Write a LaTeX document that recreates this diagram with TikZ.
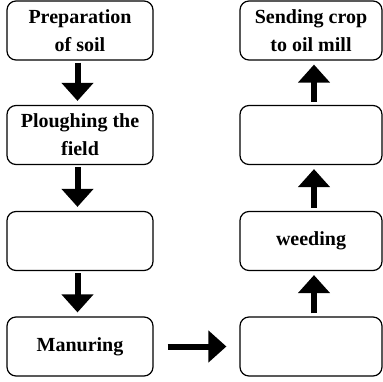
\documentclass[tikz,border=0pt]{standalone}
\usepackage{fontspec}
\setmainfont{Liberation Serif}
\usetikzlibrary{arrows.meta}
\begin{document}
\begin{tikzpicture}[x=1pt,y=-1pt,
  box/.style={draw, line width=1.2pt, rounded corners=9pt, minimum height=59pt, align=center,
    inner sep=0pt, font=\fontsize{20}{28}\selectfont\bfseries},
  lbox/.style={box, minimum width=146pt},
  rbox/.style={box, minimum width=142pt},
  arr/.style={line width=6pt, -{Triangle[width=31pt,length=18pt]}}
]
\useasboundingbox (0,0) rectangle (383,382);
\node[lbox] (l1) at (80,30.5) {Preparation\\of soil};
\node[lbox] (l2) at (80,135) {Ploughing the\\field};
\node[lbox] (l3) at (80,241) {};
\node[lbox] (l4) at (80,346.5) {Manuring};
\node[rbox] (r1) at (311,30.5) {Sending crop\\to oil mill};
\node[rbox] (r2) at (311,135) {};
\node[rbox] (r3) at (311,241) {weeding};
\node[rbox] (r4) at (311,346.5) {};
\draw[arr, shorten <=2pt, shorten >=4pt] ([xshift=-2.5pt]l1.south) -- ([xshift=-2.5pt]l2.north);
\draw[arr, shorten <=2pt, shorten >=4pt] ([xshift=-2.5pt]l2.south) -- ([xshift=-2.5pt]l3.north);
\draw[arr, shorten <=2pt, shorten >=4pt] ([xshift=-2.5pt]l3.south) -- ([xshift=-2.5pt]l4.north);
\draw[arr, shorten <=14pt, shorten >=13pt] (l4.east) -- (r4.west);
\draw[arr, shorten <=3pt, shorten >=4pt] ([xshift=3pt]r4.north) -- ([xshift=3pt]r3.south);
\draw[arr, shorten <=3pt, shorten >=4pt] ([xshift=3pt]r3.north) -- ([xshift=3pt]r2.south);
\draw[arr, shorten <=3pt, shorten >=4pt] ([xshift=3pt]r2.north) -- ([xshift=3pt]r1.south);
\end{tikzpicture}
\end{document}
